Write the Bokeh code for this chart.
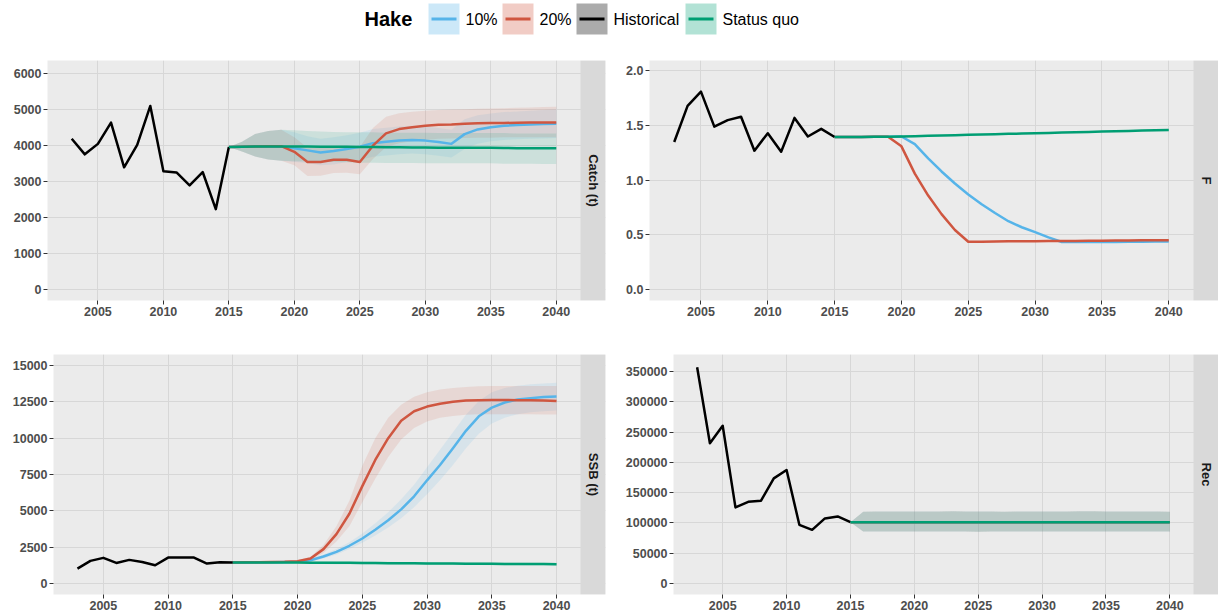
from bokeh.plotting import figure
from bokeh.layouts import column, row
from bokeh.models import Range1d, FixedTicker, NumeralTickFormatter, BoxAnnotation, Label
from bokeh.embed import file_html
from bokeh.resources import INLINE
from bokeh.core.properties import value

FONT = "Liberation Sans"

# ---------------------------------------------------------------- data
hist_years = list(range(2003, 2016))
proj_years = list(range(2015, 2041))
x_ticks = [2005, 2010, 2015, 2020, 2025, 2030, 2035, 2040]

scenarios = ["10%", "20%", "Historical", "Status quo"]
colors = {"10%": "#56B4E9", "20%": "#CF5640", "Historical": "#000000", "Status quo": "#009E73"}

# Catch (t)
catch_hist = [4180, 3750, 4040, 4630, 3390, 4010, 5090, 3280, 3250, 2890, 3260, 2230, 3950]
catch_sq = [3950, 3960, 3965, 3970, 3970, 3970, 3965, 3960, 3960, 3960, 3955, 3950, 3945,
            3945, 3940, 3940, 3935, 3930, 3930, 3930, 3930, 3925, 3920, 3920, 3920, 3920]
catch_sq_lo = [3950, 3830, 3690, 3610, 3570, 3560, 3550, 3540, 3540, 3530, 3520, 3520, 3510,
               3510, 3510, 3500, 3500, 3500, 3500, 3500, 3500, 3490, 3490, 3490, 3480, 3480]
catch_sq_hi = [3950, 4100, 4310, 4400, 4430, 4420, 4400, 4380, 4370, 4360, 4360, 4360, 4350,
               4350, 4350, 4350, 4340, 4340, 4340, 4340, 4340, 4340, 4330, 4330, 4330, 4330]
catch_10 = [3950, 3960, 3965, 3970, 3970, 3920, 3860, 3800, 3840, 3900, 3960, 4060, 4100,
            4130, 4150, 4130, 4090, 4040, 4310, 4440, 4500, 4540, 4560, 4575, 4590, 4600]
catch_10_lo = [3950, 3830, 3690, 3610, 3570, 3540, 3510, 3450, 3470, 3540, 3600, 3680, 3720,
               3750, 3770, 3750, 3710, 3660, 3900, 4040, 4110, 4150, 4170, 4180, 4190, 4200]
catch_10_hi = [3950, 4100, 4310, 4400, 4430, 4360, 4250, 4180, 4220, 4280, 4350, 4450, 4490,
               4520, 4540, 4520, 4480, 4430, 4720, 4830, 4880, 4920, 4940, 4960, 4980, 4990]
catch_20 = [3950, 3960, 3965, 3975, 3975, 3820, 3540, 3540, 3600, 3600, 3540, 3990, 4330,
            4450, 4500, 4540, 4570, 4580, 4600, 4610, 4615, 4620, 4625, 4630, 4630, 4635]
catch_20_lo = [3950, 3830, 3690, 3610, 3570, 3450, 3150, 3160, 3230, 3240, 3200, 3620, 3950,
               4060, 4110, 4150, 4180, 4190, 4200, 4210, 4210, 4220, 4220, 4220, 4220, 4220]
catch_20_hi = [3950, 4100, 4310, 4400, 4430, 4220, 3930, 3930, 3980, 3990, 3950, 4480, 4790,
               4890, 4930, 4960, 4980, 4990, 5000, 5010, 5020, 5030, 5040, 5050, 5060, 5070]

# F
f_hist = [1.35, 1.68, 1.81, 1.49, 1.55, 1.58, 1.27, 1.43, 1.26, 1.57, 1.40, 1.47, 1.395]
f_sq = [1.395, 1.395, 1.395, 1.397, 1.398, 1.400, 1.403, 1.406, 1.409, 1.412, 1.415, 1.418, 1.421,
        1.424, 1.427, 1.430, 1.433, 1.436, 1.439, 1.442, 1.445, 1.448, 1.451, 1.454, 1.457, 1.460]
f_10 = [1.395, 1.395, 1.395, 1.397, 1.398, 1.400, 1.330, 1.200, 1.080, 0.970, 0.870, 0.780, 0.700,
        0.625, 0.570, 0.525, 0.477, 0.435, 0.434, 0.434, 0.435, 0.436, 0.437, 0.438, 0.439, 0.440]
f_20 = [1.395, 1.395, 1.395, 1.397, 1.398, 1.310, 1.060, 0.860, 0.690, 0.545, 0.437, 0.438, 0.440,
        0.441, 0.442, 0.443, 0.444, 0.445, 0.445, 0.446, 0.447, 0.448, 0.449, 0.450, 0.451, 0.452]

# SSB (t)
ssb_hist = [1030, 1560, 1770, 1420, 1630, 1490, 1260, 1790, 1790, 1790, 1380, 1470, 1450]
ssb_sq = [1450, 1450, 1450, 1450, 1450, 1445, 1440, 1435, 1430, 1425, 1420, 1410, 1400,
          1395, 1390, 1385, 1380, 1375, 1370, 1365, 1360, 1355, 1350, 1345, 1340, 1335]
ssb_sq_lo = [1450, 1400, 1380, 1370, 1360, 1350, 1345, 1340, 1335, 1330, 1325, 1315, 1305,
             1300, 1295, 1290, 1285, 1280, 1275, 1270, 1265, 1260, 1255, 1250, 1245, 1240]
ssb_sq_hi = [1450, 1500, 1520, 1530, 1540, 1540, 1535, 1530, 1525, 1520, 1515, 1505, 1495,
             1490, 1485, 1480, 1475, 1470, 1465, 1460, 1455, 1450, 1445, 1440, 1435, 1430]
ssb_10 = [1450, 1455, 1460, 1470, 1480, 1500, 1600, 1860, 2180, 2600, 3100, 3700, 4350,
          5100, 6000, 7100, 8150, 9300, 10500, 11500, 12100, 12450, 12650, 12750, 12820, 12870]
ssb_10_lo = [1450, 1440, 1440, 1440, 1450, 1460, 1520, 1730, 2000, 2370, 2800, 3300, 3850,
             4500, 5250, 6150, 7100, 8150, 9300, 10300, 11000, 11400, 11650, 11780, 11850, 11900]
ssb_10_hi = [1450, 1470, 1480, 1500, 1510, 1540, 1680, 2000, 2380, 2850, 3450, 4150, 4900,
             5800, 6800, 8000, 9200, 10400, 11600, 12550, 13150, 13450, 13600, 13700, 13760, 13800]
ssb_20 = [1450, 1460, 1470, 1480, 1500, 1540, 1720, 2370, 3400, 4800, 6700, 8500, 10000,
          11200, 11850, 12170, 12370, 12500, 12580, 12610, 12620, 12620, 12610, 12600, 12580, 12560]
ssb_20_lo = [1450, 1440, 1440, 1440, 1450, 1470, 1600, 2100, 2900, 3950, 5600, 7200, 8700,
             9900, 10700, 11150, 11400, 11530, 11600, 11640, 11650, 11650, 11650, 11640, 11630, 11620]
ssb_20_hi = [1450, 1480, 1500, 1520, 1550, 1610, 1850, 2650, 3950, 5700, 8100, 10000, 11400,
             12300, 12850, 13150, 13350, 13450, 13520, 13560, 13580, 13590, 13590, 13590, 13590, 13580]

# Rec (identical for every scenario)
rec_hist = [357000, 231500, 260500, 125700, 135000, 136700, 173600, 187400, 97000, 88700,
            107500, 110800, 101400]
rec_proj = [101400, 101300, 101300, 101300, 101300, 101300, 101300, 101300, 101300, 101300,
            101300, 101300, 101300, 101300, 101300, 101400, 101300, 101300, 101300, 101300,
            101300, 101300, 101300, 101300, 101300, 101300]
rec_lo = [101400, 86000, 86000, 85800, 85800, 86000, 86000, 85800, 86000, 86000, 85500, 85800,
          85800, 86000, 86000, 86000, 86000, 85800, 85800, 86000, 86000, 86000, 85800, 85800,
          86000, 86000]
rec_hi = [101400, 118500, 119000, 119000, 119000, 118800, 118800, 119000, 119200, 119000,
          118800, 118800, 118600, 118800, 119000, 119000, 119000, 119000, 119200, 119400,
          119000, 119000, 119000, 119000, 118800, 118600]

panels = [
    dict(strip="Catch (t)", yr=(-300, 6350), yt=[0, 1000, 2000, 3000, 4000, 5000, 6000], fmt="0",
         hist=catch_hist,
         lines={"10%": catch_10, "20%": catch_20, "Status quo": catch_sq},
         bands={"10%": (catch_10_lo, catch_10_hi), "20%": (catch_20_lo, catch_20_hi),
                "Status quo": (catch_sq_lo, catch_sq_hi)},
         w=609, h=285, bl=47, br=4, bt=15, bb=30),
    dict(strip="F", yr=(-0.1, 2.095), yt=[0, 0.5, 1.0, 1.5, 2.0], fmt="0.0",
         hist=f_hist,
         lines={"10%": f_10, "20%": f_20, "Status quo": f_sq},
         bands={},
         w=609, h=285, bl=40, br=0, bt=15, bb=30),
    dict(strip="SSB (t)", yr=(-750, 15750), yt=[0, 2500, 5000, 7500, 10000, 12500, 15000], fmt="0",
         hist=ssb_hist,
         lines={"10%": ssb_10, "20%": ssb_20, "Status quo": ssb_sq},
         bands={"10%": (ssb_10_lo, ssb_10_hi), "20%": (ssb_20_lo, ssb_20_hi),
                "Status quo": (ssb_sq_lo, ssb_sq_hi)},
         w=609, h=284, bl=53, br=4, bt=24, bb=20),
    dict(strip="Rec", yr=(-18000, 378000), yt=[0, 50000, 100000, 150000, 200000, 250000, 300000, 350000],
         fmt="0", hist=rec_hist,
         lines={"10%": rec_proj, "20%": rec_proj, "Status quo": rec_proj},
         bands={"10%": (rec_lo, rec_hi), "20%": (rec_lo, rec_hi), "Status quo": (rec_lo, rec_hi)},
         w=609, h=284, bl=64, br=0, bt=24, bb=20),
]

X0, X1 = 2001.15, 2041.85   # panel x extent (data range plus 5 % padding)
STRIP_PX = 25
PANEL_BG = "#EBEBEB"
GRID = "#D7D7D7"
STRIP_BG = "#D9D9D9"
RIBBON_ALPHA = 0.13


def make_panel(cfg):
    frame_w = cfg["w"] - cfg["bl"] - cfg["br"]
    yrs_per_px = (X1 - X0) / (frame_w - STRIP_PX)
    x_end = X1 + STRIP_PX * yrs_per_px
    p = figure(width=cfg["w"], height=cfg["h"], output_backend="svg", toolbar_location=None,
               x_range=Range1d(X0, x_end), y_range=Range1d(*cfg["yr"]),
               min_border_left=cfg["bl"], min_border_right=cfg["br"],
               min_border_top=cfg["bt"], min_border_bottom=cfg["bb"])
    p.background_fill_color = PANEL_BG
    p.border_fill_color = "white"
    p.outline_line_color = None

    for ax, ticks in ((p.xaxis[0], x_ticks), (p.yaxis[0], cfg["yt"])):
        ax.ticker = FixedTicker(ticks=ticks, minor_ticks=[])
        ax.axis_line_color = None
        ax.major_tick_line_color = "#333333"
        ax.major_tick_out = 4
        ax.major_tick_in = 0
        ax.major_label_standoff = 2
        ax.major_label_text_font = FONT
        ax.major_label_text_font_style = "bold"
        ax.major_label_text_font_size = "12.5px"
        ax.major_label_text_color = "#4D4D4D"
    p.yaxis[0].formatter = NumeralTickFormatter(format=cfg["fmt"])

    for g in (p.xgrid[0], p.ygrid[0]):
        g.grid_line_color = GRID
        g.grid_line_width = 1

    # uncertainty ribbons
    for s in ["10%", "20%", "Status quo"]:
        if s in cfg["bands"]:
            lo, hi = cfg["bands"][s]
            p.varea(x=proj_years, y1=lo, y2=hi, fill_color=colors[s], fill_alpha=RIBBON_ALPHA)

    # median trajectories, status quo drawn last
    for s in ["10%", "20%"]:
        p.line(proj_years, cfg["lines"][s], line_color=colors[s], line_width=2.5, line_join="round")
    p.line(hist_years, cfg["hist"], line_color=colors["Historical"], line_width=2.5, line_join="round")
    p.line(proj_years, cfg["lines"]["Status quo"], line_color=colors["Status quo"], line_width=2.5,
           line_join="round")

    # facet strip on the right
    p.add_layout(BoxAnnotation(left=X1, fill_color=STRIP_BG, fill_alpha=1.0, line_color=None))
    y_mid = (cfg["yr"][0] + cfg["yr"][1]) / 2
    p.add_layout(Label(x=(X1 + x_end) / 2, y=y_mid, text=cfg["strip"], angle=-90, angle_units="deg",
                       text_align="center", text_baseline="middle", text_font=FONT,
                       text_font_style="bold", text_font_size="13px", text_color="#1A1A1A"))
    return p


# ---------------------------------------------------------------- legend strip
leg = figure(width=1218, height=45, output_backend="svg", toolbar_location=None,
             x_range=Range1d(0, 1218), y_range=Range1d(45, 0),
             min_border=0, min_border_left=0, min_border_right=0, min_border_top=0, min_border_bottom=0)
leg.axis.visible = False
leg.grid.visible = False
leg.outline_line_color = None
leg.background_fill_color = "white"

key_left = [428, 502, 576, 685]
key_w = 31
key_alpha = [0.3, 0.3, 0.33, 0.3]
leg.text(x=[364], y=[18], text=["Hake"], text_font=value(FONT), text_font_style="bold",
         text_font_size="20px", text_baseline="middle", text_align="left", text_color="black")
for s, kl, a in zip(scenarios, key_left, key_alpha):
    leg.quad(left=[kl], right=[kl + key_w], top=[3], bottom=[34], fill_color=colors[s],
             fill_alpha=a, line_color=None)
    leg.segment(x0=[kl + 3], y0=[18.5], x1=[kl + key_w - 3], y1=[18.5], line_color=colors[s],
                line_width=3)
    leg.text(x=[kl + key_w + 6], y=[19], text=[s], text_font=value(FONT), text_font_size="16px",
             text_baseline="middle", text_align="left", text_color="black")

figs = [make_panel(c) for c in panels]
layout = column(leg, row(figs[0], figs[1]), row(figs[2], figs[3]))

open("out.html", "w").write(file_html(layout, INLINE))
